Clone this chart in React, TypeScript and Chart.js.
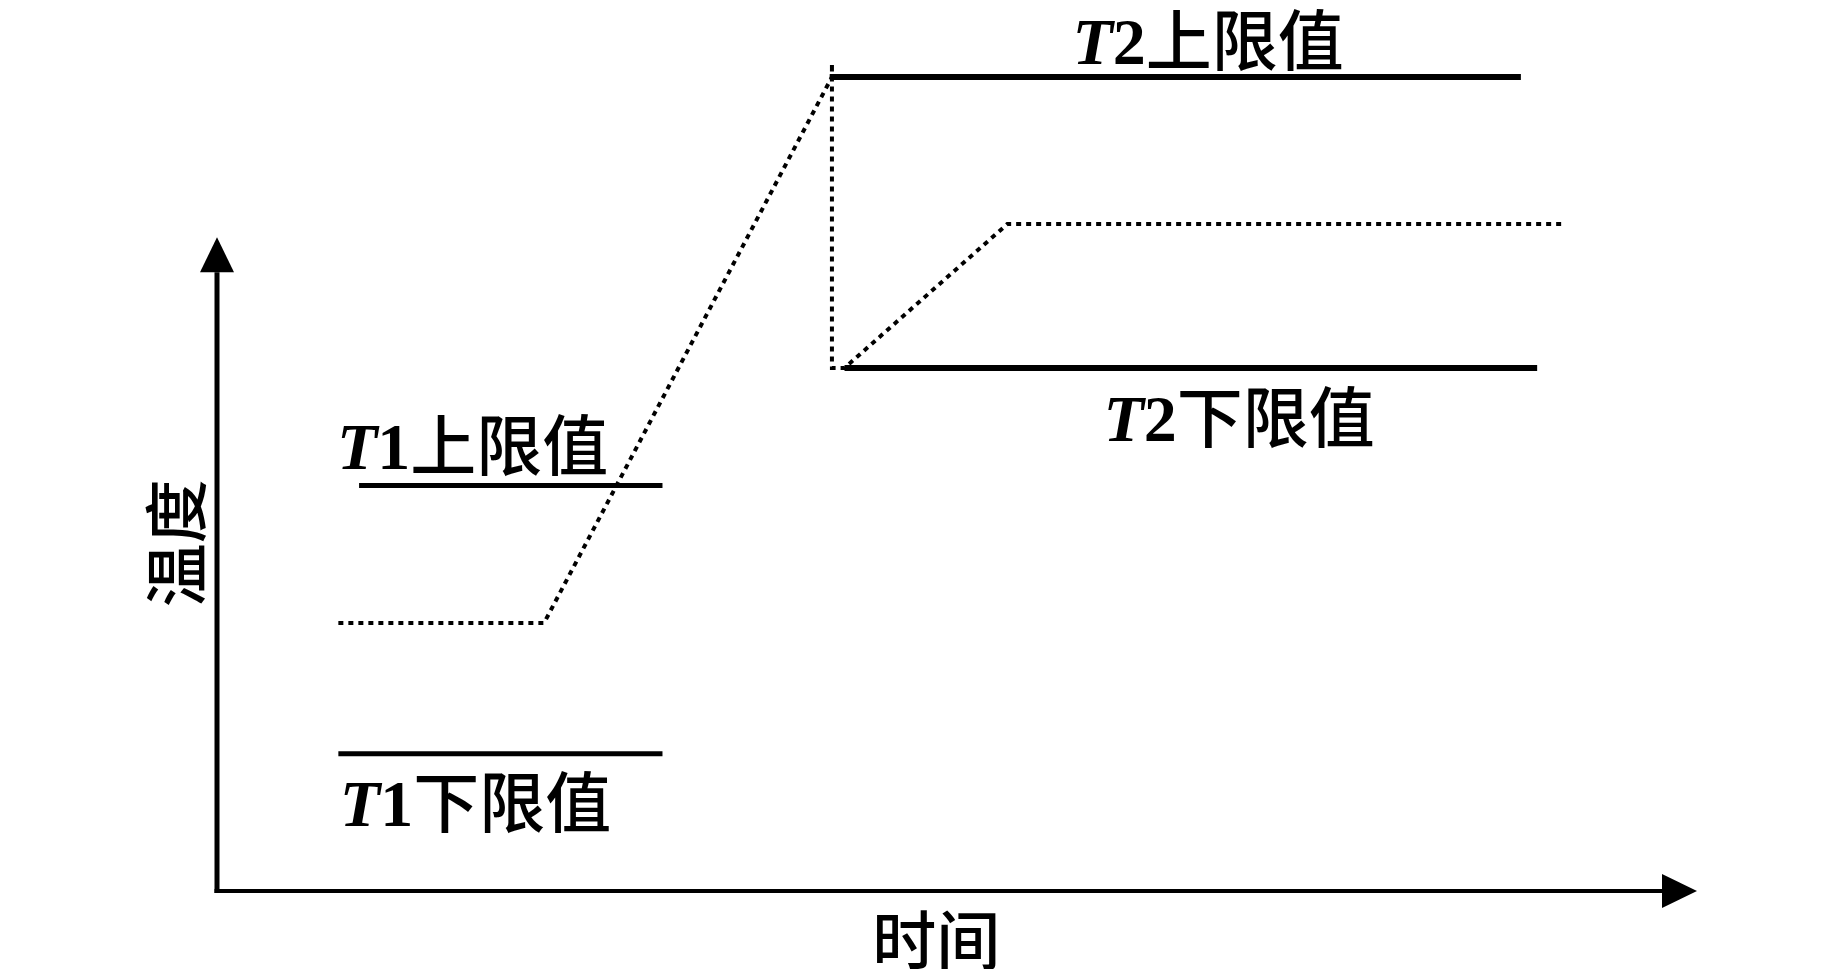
import React, { useEffect, useRef } from "react";
import { Chart, registerables } from "chart.js";

Chart.register(...registerables);

// Axis titles
const xAxisTitle = "时间";
const yAxisTitle = "温度";

// Axis extents (data units): arrows end at these values
const xAxisEnd = 100;
const yAxisEnd = 100;

// Limit lines (time, temperature)
const t1UpperX = [9.6, 30.1];
const t1UpperY = [62, 62];
const t1LowerX = [8.2, 30.1];
const t1LowerY = [21, 21];
const t2UpperX = [41.4, 88.1];
const t2UpperY = [124.5, 124.5];
const t2LowerX = [42.4, 89.2];
const t2LowerY = [80, 80];

// Actual temperature curve (dotted)
const tempX = [8.2, 22.1, 41.55, 41.55, 41.55, 42.4, 53.4, 90.9];
const tempY = [41, 41, 124.5, 126.6, 80, 80, 102, 102];

// Labels: italic letter + upright digit + CJK suffix, anchored at (left x, centre y)
const labelLetters = ["T", "T", "T", "T"];
const labelDigits = ["1", "1", "2", "2"];
const labelSuffixes = ["上限值", "下限值", "上限值", "下限值"];
const labelX = [8.1, 8.3, 57.8, 59.9];
const labelY = [68.2, 13.6, 130.1, 72.5];

// Axis title anchors (centre)
const xTitlePos = [48.6, -7.5];
const yTitlePos = [-2.8, 53.2];

const toPts = (xs: number[], ys: number[]) => xs.map((x, i) => ({ x, y: ys[i] }));

const CJK = '"Noto Sans CJK SC", "Noto Sans CJK JP", sans-serif';
const LATIN = '"Liberation Serif", "DejaVu Serif", serif';

const axesPlugin = {
  id: "arrowAxes",
  beforeDatasetsDraw(chart: any) {
    const { ctx, scales } = chart;
    const xs = scales.x;
    const ys = scales.y;
    const x0 = xs.getPixelForValue(0);
    const y0 = ys.getPixelForValue(0);
    const xEnd = xs.getPixelForValue(xAxisEnd);
    const yEnd = ys.getPixelForValue(yAxisEnd);
    const head = 35;
    const half = 17;
    ctx.save();
    ctx.fillStyle = "#000";
    ctx.strokeStyle = "#000";
    ctx.lineCap = "butt";
    // y axis
    ctx.lineWidth = 5;
    ctx.beginPath();
    ctx.moveTo(x0, y0 + 2);
    ctx.lineTo(x0, yEnd + head);
    ctx.stroke();
    ctx.beginPath();
    ctx.moveTo(x0, yEnd);
    ctx.lineTo(x0 - half, yEnd + head);
    ctx.lineTo(x0 + half, yEnd + head);
    ctx.closePath();
    ctx.fill();
    // x axis
    ctx.lineWidth = 4;
    ctx.beginPath();
    ctx.moveTo(x0 - 2.5, y0);
    ctx.lineTo(xEnd - head, y0);
    ctx.stroke();
    ctx.beginPath();
    ctx.moveTo(xEnd, y0);
    ctx.lineTo(xEnd - head, y0 - half);
    ctx.lineTo(xEnd - head, y0 + half);
    ctx.closePath();
    ctx.fill();
    ctx.restore();
  },
};

const labelsPlugin = {
  id: "textLabels",
  afterDraw(chart: any) {
    const { ctx, scales } = chart;
    const xs = scales.x;
    const ys = scales.y;
    ctx.save();
    ctx.fillStyle = "#000";
    const size = 66;
    labelLetters.forEach((letter, i) => {
      let px = xs.getPixelForValue(labelX[i]);
      const py = ys.getPixelForValue(labelY[i]);
      ctx.textAlign = "left";
      ctx.textBaseline = "alphabetic";
      ctx.font = `bold italic ${size}px ${LATIN}`;
      ctx.fillText(letter, px, py + size * 0.36);
      px += ctx.measureText(letter).width;
      ctx.font = `bold ${size}px ${LATIN}`;
      ctx.fillText(labelDigits[i], px, py + size * 0.36);
      px += ctx.measureText(labelDigits[i]).width;
      ctx.font = `500 ${size}px ${CJK}`;
      ctx.textBaseline = "middle";
      ctx.fillText(labelSuffixes[i], px, py);
    });
    // axis titles
    ctx.font = `500 64px ${CJK}`;
    ctx.textAlign = "center";
    ctx.textBaseline = "middle";
    ctx.fillText(xAxisTitle, xs.getPixelForValue(xTitlePos[0]), ys.getPixelForValue(xTitlePos[1]));
    ctx.translate(xs.getPixelForValue(yTitlePos[0]), ys.getPixelForValue(yTitlePos[1]));
    ctx.rotate(-Math.PI / 2);
    ctx.fillText(yAxisTitle, 0, 0);
    ctx.restore();
  },
};

export default function App() {
  const ref = useRef<HTMLCanvasElement>(null);
  useEffect(() => {
    const canvas = ref.current;
    if (!canvas) return;
    const solid = (xs: number[], ys: number[], w: number) => ({
      data: toPts(xs, ys),
      showLine: true,
      borderColor: "#000",
      backgroundColor: "#000",
      borderWidth: w,
      pointRadius: 0,
      pointHoverRadius: 0,
      tension: 0,
      borderCapStyle: "butt" as const,
      clip: false as const,
    });
    const chart = new Chart(canvas, {
      type: "scatter",
      data: {
        datasets: [
          solid(t1UpperX, t1UpperY, 5),
          solid(t1LowerX, t1LowerY, 5),
          solid(t2UpperX, t2UpperY, 6),
          solid(t2LowerX, t2LowerY, 6),
          {
            ...solid(tempX, tempY, 4),
            borderDash: [5, 5],
          },
        ],
      },
      options: {
        responsive: false,
        animation: false,
        devicePixelRatio: 1,
        layout: { padding: { left: 217, right: 146, top: 41, bottom: 78 } },
        plugins: { legend: { display: false }, tooltip: { enabled: false } },
        events: [],
        scales: {
          x: { type: "linear", min: 0, max: 100, display: false },
          y: { type: "linear", min: 0, max: 130, display: false },
        },
      },
      plugins: [axesPlugin, labelsPlugin],
    });
    return () => chart.destroy();
  }, []);
  return (
    <div style={{ position: "fixed", left: 0, top: 0, width: 1843, height: 969, background: "#fff" }}>
      <canvas ref={ref} width={1843} height={969} style={{ display: "block", width: 1843, height: 969 }} />
    </div>
  );
}
